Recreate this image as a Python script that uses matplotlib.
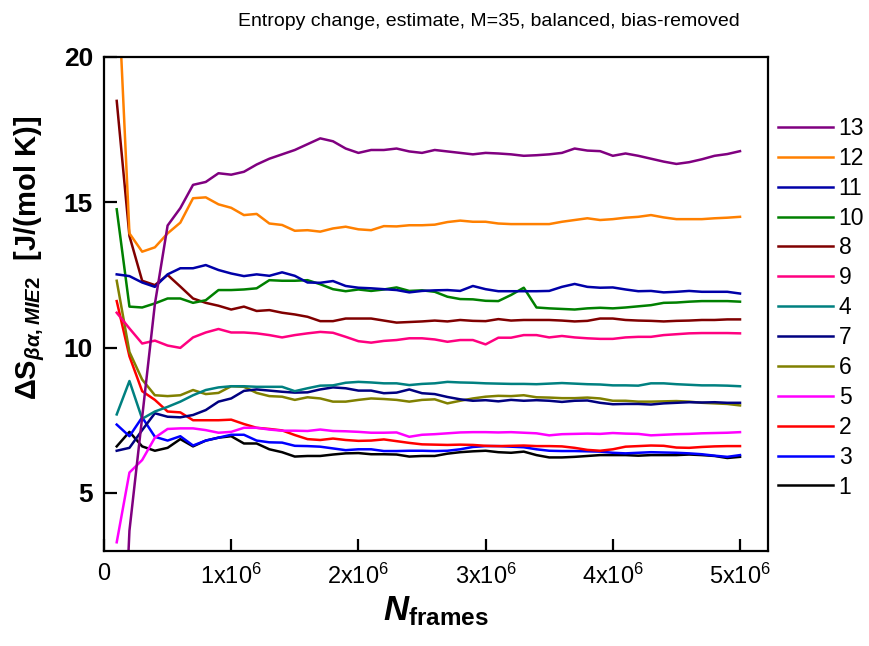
import numpy as np
import matplotlib
matplotlib.use('Agg')
import matplotlib.pyplot as plt

plt.rcParams['font.family'] = ['Liberation Sans', 'DejaVu Sans']
plt.rcParams['mathtext.fontset'] = 'custom'
plt.rcParams['mathtext.rm'] = 'Liberation Sans:bold'
plt.rcParams['mathtext.it'] = 'Liberation Sans:bold:italic'
plt.rcParams['mathtext.bf'] = 'Liberation Sans:bold'

# frame counts: 1e5 .. 5e6 in 1e5 steps
n_frames = np.arange(1, 51) * 1e5

s1 = [6.6, 7.1, 6.6, 6.45, 6.55, 6.85, 6.6, 6.8, 6.9, 6.95, 6.7, 6.7, 6.5, 6.4, 6.25,
      6.27, 6.27, 6.32, 6.36, 6.37, 6.33, 6.33, 6.32, 6.25, 6.27, 6.27, 6.35, 6.4, 6.43, 6.45,
      6.4, 6.38, 6.42, 6.3, 6.22, 6.22, 6.24, 6.27, 6.3, 6.3, 6.3, 6.28, 6.3, 6.3, 6.3,
      6.32, 6.3, 6.27, 6.2, 6.24]
s2 = [11.6, 9.7, 8.5, 8.2, 7.8, 7.77, 7.5, 7.5, 7.5, 7.52, 7.37, 7.24, 7.2, 7.15, 6.99,
      6.85, 6.82, 6.87, 6.82, 6.79, 6.8, 6.84, 6.78, 6.72, 6.67, 6.66, 6.65, 6.66, 6.65, 6.62,
      6.61, 6.62, 6.63, 6.61, 6.61, 6.6, 6.55, 6.48, 6.45, 6.5, 6.59, 6.61, 6.63, 6.62, 6.56,
      6.55, 6.58, 6.6, 6.61, 6.61]
s3 = [7.35, 6.95, 7.6, 6.93, 6.8, 6.95, 6.63, 6.8, 6.9, 7.0, 7.0, 6.8, 6.74, 6.73, 6.62,
      6.61, 6.59, 6.53, 6.47, 6.5, 6.5, 6.44, 6.44, 6.45, 6.45, 6.44, 6.45, 6.5, 6.58, 6.61,
      6.61, 6.59, 6.57, 6.5, 6.45, 6.44, 6.44, 6.43, 6.42, 6.38, 6.36, 6.38, 6.4, 6.39, 6.38,
      6.36, 6.33, 6.28, 6.24, 6.3]
s4 = [7.7, 8.85, 7.55, 7.8, 7.96, 8.14, 8.36, 8.54, 8.63, 8.67, 8.67, 8.65, 8.65, 8.65, 8.5,
      8.6, 8.69, 8.7, 8.79, 8.82, 8.8, 8.77, 8.77, 8.71, 8.75, 8.77, 8.82, 8.8, 8.79, 8.77,
      8.76, 8.75, 8.75, 8.74, 8.76, 8.78, 8.76, 8.74, 8.73, 8.7, 8.7, 8.69, 8.77, 8.77, 8.74,
      8.72, 8.7, 8.7, 8.69, 8.67]
s5 = [3.3, 5.7, 6.13, 6.9, 7.2, 7.22, 7.22, 7.16, 7.07, 7.1, 7.24, 7.24, 7.18, 7.14, 7.14,
      7.13, 7.18, 7.13, 7.12, 7.1, 7.07, 7.07, 7.08, 6.93, 7.0, 7.02, 7.05, 7.08, 7.09, 7.09,
      7.08, 7.09, 7.07, 7.05, 6.98, 7.02, 7.03, 7.04, 7.03, 7.06, 7.04, 7.03, 6.98, 7.0, 7.02,
      7.03, 7.05, 7.06, 7.07, 7.09]
s6 = [12.3, 9.85, 8.9, 8.36, 8.33, 8.36, 8.54, 8.4, 8.44, 8.67, 8.65, 8.44, 8.33, 8.31, 8.2,
      8.29, 8.25, 8.14, 8.14, 8.2, 8.25, 8.23, 8.2, 8.14, 8.2, 8.22, 8.08, 8.17, 8.25, 8.31,
      8.34, 8.33, 8.36, 8.29, 8.28, 8.26, 8.26, 8.28, 8.25, 8.17, 8.17, 8.14, 8.14, 8.15, 8.16,
      8.14, 8.1, 8.08, 8.06, 8.01]
s7 = [6.45, 6.55, 7.16, 7.74, 7.62, 7.6, 7.68, 7.85, 8.14, 8.25, 8.51, 8.56, 8.52, 8.48, 8.45,
      8.46, 8.56, 8.63, 8.6, 8.52, 8.52, 8.43, 8.45, 8.56, 8.43, 8.4, 8.3, 8.22, 8.17, 8.19,
      8.15, 8.2, 8.17, 8.19, 8.17, 8.13, 8.17, 8.18, 8.1, 8.05, 8.06, 8.06, 8.04, 8.08, 8.1,
      8.12, 8.11, 8.12, 8.1, 8.1]
s8 = [18.49, 13.84, 12.3, 12.15, 12.5, 12.1, 11.69, 11.54, 11.44, 11.31, 11.41, 11.26, 11.29, 11.2, 11.14,
      11.06, 10.91, 10.91, 11.0, 11.0, 11.0, 10.93, 10.86, 10.88, 10.9, 10.93, 10.9, 10.95, 10.92, 10.91,
      10.98, 10.93, 10.95, 10.95, 10.95, 10.93, 10.9, 10.92, 11.0, 11.0, 10.95, 10.93, 10.92, 10.9, 10.92,
      10.93, 10.95, 10.95, 10.97, 10.97]
s9 = [11.2, 10.66, 10.14, 10.24, 10.07, 9.99, 10.35, 10.52, 10.64, 10.52, 10.52, 10.49, 10.43, 10.35, 10.43,
      10.49, 10.54, 10.51, 10.37, 10.22, 10.17, 10.23, 10.26, 10.32, 10.32, 10.28, 10.2, 10.26, 10.26, 10.11,
      10.34, 10.34, 10.43, 10.43, 10.35, 10.4, 10.35, 10.32, 10.3, 10.3, 10.35, 10.37, 10.37, 10.43, 10.46,
      10.49, 10.5, 10.5, 10.5, 10.49]
s10 = [14.76, 11.41, 11.38, 11.52, 11.69, 11.69, 11.54, 11.63, 11.98, 11.98, 12.0, 12.04, 12.32, 12.3, 12.3,
       12.32, 12.18, 12.01, 11.94, 12.0, 11.95, 12.0, 12.07, 11.95, 11.97, 11.92, 11.75, 11.67, 11.66, 11.61,
       11.6, 11.81, 12.06, 11.38, 11.35, 11.33, 11.31, 11.35, 11.37, 11.35, 11.38, 11.42, 11.46, 11.54, 11.55,
       11.58, 11.6, 11.6, 11.6, 11.58]
s11 = [12.52, 12.46, 12.24, 12.09, 12.52, 12.73, 12.73, 12.84, 12.67, 12.55, 12.46, 12.52, 12.47, 12.59, 12.47,
       12.24, 12.23, 12.29, 12.12, 12.06, 12.04, 12.01, 11.98, 11.9, 11.95, 11.97, 11.98, 11.95, 12.12, 12.01,
       11.94, 11.94, 11.94, 11.94, 11.95, 12.09, 12.19, 12.09, 12.06, 12.07, 12.0, 11.94, 11.95, 11.9, 11.92,
       11.95, 11.92, 11.92, 11.92, 11.86]
s12 = [23.4, 13.93, 13.3, 13.45, 13.93, 14.3, 15.14, 15.17, 14.93, 14.81, 14.56, 14.6, 14.27, 14.22, 14.02,
       14.04, 13.99, 14.1, 14.16, 14.07, 14.04, 14.18, 14.17, 14.21, 14.21, 14.23, 14.32, 14.37, 14.33, 14.33,
       14.27, 14.25, 14.25, 14.25, 14.25, 14.33, 14.39, 14.45, 14.39, 14.42, 14.47, 14.5, 14.56, 14.48, 14.42,
       14.42, 14.42, 14.45, 14.47, 14.5]
s13 = [-6.0, 3.7, 7.6, 11.5, 14.2, 14.8, 15.6, 15.7, 16.0, 15.95, 16.05, 16.3, 16.5, 16.65, 16.8,
       17.0, 17.2, 17.1, 16.85, 16.7, 16.8, 16.8, 16.85, 16.75, 16.7, 16.8, 16.75, 16.7, 16.65, 16.7,
       16.68, 16.65, 16.6, 16.62, 16.65, 16.7, 16.85, 16.78, 16.76, 16.6, 16.68, 16.6, 16.5, 16.4, 16.32,
       16.38, 16.48, 16.6, 16.66, 16.76]

# legend order, top to bottom
labels = ['13', '12', '11', '10', '8', '9', '4', '7', '6', '5', '2', '3', '1']
series = [s13, s12, s11, s10, s8, s9, s4, s7, s6, s5, s2, s3, s1]
colors = ['#800080', '#FF8000', '#0000A8', '#008000', '#800000', '#FF0080', '#008080',
          '#000080', '#808000', '#FF00FF', '#FF0000', '#0000FF', '#000000']

fig = plt.figure(figsize=(8.7, 6.46), dpi=100)
ax = fig.add_axes([104 / 870, 1 - 551 / 646, (768 - 104) / 870, (551 - 57) / 646])

# draw back to front so that line 13 ends up on top
for lab, vals, col in reversed(list(zip(labels, series, colors))):
    ax.plot(n_frames, vals, color=col, lw=1.8, label=lab)

ax.set_xlim(0, 5.22e6)
ax.set_ylim(3, 20)

ax.set_xticks([0, 1e6, 2e6, 3e6, 4e6, 5e6])
ax.set_xticklabels(['0'] + [r'%dx10$^{\mathregular{6}}$' % k for k in range(1, 6)],
                   fontsize=17)
ax.set_yticks([5, 10, 15, 20])
ax.set_yticklabels(['5', '10', '15', '20'], fontsize=19, fontweight='bold')
ax.tick_params(direction='in', length=9, width=1.6, top=False, right=False)
ax.tick_params(axis='x', pad=9)
ax.tick_params(axis='y', pad=8)
for sp in ax.spines.values():
    sp.set_linewidth(1.6)

fig.text(489 / 870, 1 - 22 / 646, 'Entropy change, estimate, M=35, balanced, bias-removed',
         fontsize=14, ha='center', va='center')
ax.set_xlabel(r'$N_{\mathrm{frames}}$', fontsize=25, labelpad=4)
fig.text(30 / 870, 1 - 258 / 646, r'$\mathrm{\Delta S}_{\beta\alpha,MIE2}$  [J/(mol K)]',
         rotation=90, ha='center', va='center', fontsize=21, fontweight='bold')

handles, leg_labels = ax.get_legend_handles_labels()
order = [leg_labels.index(l) for l in labels]
fig.legend([handles[i] for i in order], labels, loc='upper left',
           bbox_to_anchor=(778 / 870, 1 - 117 / 646), frameon=False, fontsize=16.5,
           handlelength=2.4, handletextpad=0.25, labelspacing=0.3,
           borderpad=0, borderaxespad=0)

fig.savefig('out.png', dpi=100)
